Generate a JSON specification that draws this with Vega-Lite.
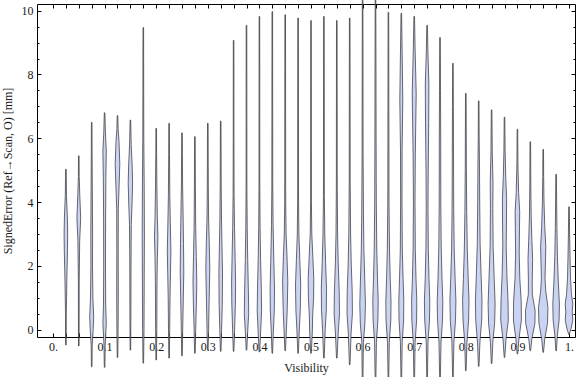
{
"$schema":"https://vega.github.io/schema/vega-lite/v6.json",
"autosize":"none","width":538,"height":333,
"padding":{"left":37,"top":4,"right":1,"bottom":40},
"background":"white",
"config":{"view":{"stroke":"#000","strokeWidth":1},
"axis":{"domain":false,"grid":false,"labelFont":"Liberation Serif","titleFont":"Liberation Serif","labelFontSize":12,"titleFontSize":12,"labelColor":"#1a1a1a","titleColor":"#1a1a1a","titleFontWeight":"normal","tickColor":"#000","tickWidth":1,"labelOverlap":false,"labelFlush":false,"labelBound":false}},
"data":{"values":[
{"v":0.025,"e":-0.48,"d":0.3},{"v":0.025,"e":0.5,"d":0.4},{"v":0.025,"e":1.5,"d":0.9},{"v":0.025,"e":2.5,"d":1.6},{"v":0.025,"e":3.0,"d":1.8},{"v":0.025,"e":3.5,"d":1.5},{"v":0.025,"e":4.2,"d":0.6},{"v":0.025,"e":5.03,"d":0.3},
{"v":0.05,"e":-0.51,"d":0.3},{"v":0.05,"e":1.5,"d":0.4},{"v":0.05,"e":2.8,"d":0.9},{"v":0.05,"e":3.5,"d":1.9},{"v":0.05,"e":4.2,"d":1.0},{"v":0.05,"e":4.8,"d":0.4},{"v":0.05,"e":5.45,"d":0.3},
{"v":0.075,"e":-1.16,"d":0.3},{"v":0.075,"e":-0.5,"d":0.5},{"v":0.075,"e":0,"d":1.5},{"v":0.075,"e":0.4,"d":2.0},{"v":0.075,"e":1.0,"d":1.2},{"v":0.075,"e":2.0,"d":0.8},{"v":0.075,"e":3.0,"d":0.9},{"v":0.075,"e":4.5,"d":0.6},{"v":0.075,"e":5.5,"d":0.4},{"v":0.075,"e":6.5,"d":0.3},
{"v":0.1,"e":-1.18,"d":0.3},{"v":0.1,"e":-0.5,"d":0.6},{"v":0.1,"e":0.2,"d":1.7},{"v":0.1,"e":0.8,"d":1.1},{"v":0.1,"e":2,"d":0.9},{"v":0.1,"e":3.5,"d":1.0},{"v":0.1,"e":4.8,"d":1.3},{"v":0.1,"e":5.6,"d":1.7},{"v":0.1,"e":6.2,"d":0.8},{"v":0.1,"e":6.8,"d":0.3},
{"v":0.125,"e":-0.87,"d":0.3},{"v":0.125,"e":0,"d":0.6},{"v":0.125,"e":1,"d":0.8},{"v":0.125,"e":2.5,"d":0.7},{"v":0.125,"e":3.8,"d":0.8},{"v":0.125,"e":4.5,"d":1.6},{"v":0.125,"e":5.2,"d":2.3},{"v":0.125,"e":5.9,"d":1.5},{"v":0.125,"e":6.3,"d":0.6},{"v":0.125,"e":6.71,"d":0.3},
{"v":0.15,"e":-0.64,"d":0.3},{"v":0.15,"e":0.5,"d":0.5},{"v":0.15,"e":2,"d":0.6},{"v":0.15,"e":3.3,"d":0.9},{"v":0.15,"e":4.0,"d":1.7},{"v":0.15,"e":4.6,"d":2.2},{"v":0.15,"e":5.2,"d":1.7},{"v":0.15,"e":5.8,"d":0.8},{"v":0.15,"e":6.57,"d":0.3},
{"v":0.175,"e":-1.05,"d":0.3},{"v":0.175,"e":0,"d":0.7},{"v":0.175,"e":1.5,"d":0.9},{"v":0.175,"e":3,"d":1.1},{"v":0.175,"e":4.5,"d":0.9},{"v":0.175,"e":6,"d":0.5},{"v":0.175,"e":7.5,"d":0.4},{"v":0.175,"e":9.47,"d":0.3},
{"v":0.2,"e":-0.95,"d":0.3},{"v":0.2,"e":0,"d":0.6},{"v":0.2,"e":1.5,"d":0.8},{"v":0.2,"e":2.3,"d":1.2},{"v":0.2,"e":2.9,"d":1.7},{"v":0.2,"e":3.6,"d":1.1},{"v":0.2,"e":4.5,"d":0.7},{"v":0.2,"e":5.5,"d":0.4},{"v":0.2,"e":6.31,"d":0.3},
{"v":0.225,"e":-0.89,"d":0.3},{"v":0.225,"e":0,"d":0.6},{"v":0.225,"e":1,"d":0.9},{"v":0.225,"e":1.8,"d":1.4},{"v":0.225,"e":2.5,"d":1.8},{"v":0.225,"e":3.2,"d":1.3},{"v":0.225,"e":4.2,"d":0.7},{"v":0.225,"e":5.5,"d":0.4},{"v":0.225,"e":6.47,"d":0.3},
{"v":0.25,"e":-0.82,"d":0.3},{"v":0.25,"e":0,"d":0.7},{"v":0.25,"e":1,"d":1.3},{"v":0.25,"e":1.8,"d":1.8},{"v":0.25,"e":2.7,"d":1.5},{"v":0.25,"e":3.6,"d":1.1},{"v":0.25,"e":4.5,"d":0.6},{"v":0.25,"e":5.5,"d":0.4},{"v":0.25,"e":6.17,"d":0.3},
{"v":0.275,"e":-0.74,"d":0.3},{"v":0.275,"e":0,"d":0.8},{"v":0.275,"e":0.8,"d":1.5},{"v":0.275,"e":1.5,"d":1.9},{"v":0.275,"e":2.3,"d":1.4},{"v":0.275,"e":3.2,"d":0.8},{"v":0.275,"e":4.5,"d":0.5},{"v":0.275,"e":6.05,"d":0.3},
{"v":0.3,"e":-0.63,"d":0.3},{"v":0.3,"e":0,"d":0.8},{"v":0.3,"e":1,"d":1.4},{"v":0.3,"e":1.9,"d":2.0},{"v":0.3,"e":2.8,"d":1.4},{"v":0.3,"e":3.5,"d":0.8},{"v":0.3,"e":4.5,"d":0.5},{"v":0.3,"e":6.47,"d":0.3},
{"v":0.325,"e":-0.68,"d":0.3},{"v":0.325,"e":0,"d":0.9},{"v":0.325,"e":0.8,"d":1.6},{"v":0.325,"e":1.8,"d":1.8},{"v":0.325,"e":2.6,"d":1.3},{"v":0.325,"e":3.5,"d":0.8},{"v":0.325,"e":4.5,"d":0.5},{"v":0.325,"e":6.54,"d":0.3},
{"v":0.35,"e":-0.68,"d":0.3},{"v":0.35,"e":0,"d":1.0},{"v":0.35,"e":0.8,"d":1.8},{"v":0.35,"e":1.5,"d":2.0},{"v":0.35,"e":2.3,"d":1.5},{"v":0.35,"e":3.2,"d":0.9},{"v":0.35,"e":4.2,"d":0.5},{"v":0.35,"e":6,"d":0.35},{"v":0.35,"e":9.07,"d":0.3},
{"v":0.375,"e":-0.64,"d":0.3},{"v":0.375,"e":-0.1,"d":1.1},{"v":0.375,"e":0.5,"d":2.2},{"v":0.375,"e":1.2,"d":1.9},{"v":0.375,"e":2.2,"d":1.2},{"v":0.375,"e":3.2,"d":0.7},{"v":0.375,"e":4.5,"d":0.4},{"v":0.375,"e":9.54,"d":0.3},
{"v":0.4,"e":-0.7,"d":0.3},{"v":0.4,"e":-0.1,"d":1.2},{"v":0.4,"e":0.6,"d":2.2},{"v":0.4,"e":1.3,"d":1.9},{"v":0.4,"e":2.2,"d":1.2},{"v":0.4,"e":3.2,"d":0.7},{"v":0.4,"e":4.5,"d":0.4},{"v":0.4,"e":9.82,"d":0.3},
{"v":0.425,"e":-0.74,"d":0.3},{"v":0.425,"e":-0.1,"d":1.0},{"v":0.425,"e":0.6,"d":2.0},{"v":0.425,"e":1.3,"d":2.2},{"v":0.425,"e":2.2,"d":1.5},{"v":0.425,"e":3.3,"d":0.8},{"v":0.425,"e":4.5,"d":0.45},{"v":0.425,"e":9.97,"d":0.3},
{"v":0.45,"e":-0.66,"d":0.3},{"v":0.45,"e":0,"d":1.2},{"v":0.45,"e":0.6,"d":2.0},{"v":0.45,"e":1.5,"d":2.6},{"v":0.45,"e":2.3,"d":1.8},{"v":0.45,"e":3.0,"d":0.9},{"v":0.45,"e":4.0,"d":0.5},{"v":0.45,"e":9.87,"d":0.3},
{"v":0.475,"e":-0.74,"d":0.3},{"v":0.475,"e":0,"d":1.2},{"v":0.475,"e":0.6,"d":2.2},{"v":0.475,"e":1.4,"d":2.6},{"v":0.475,"e":2.2,"d":1.7},{"v":0.475,"e":3.0,"d":0.8},{"v":0.475,"e":4.0,"d":0.45},{"v":0.475,"e":9.77,"d":0.3},
{"v":0.5,"e":-0.74,"d":0.3},{"v":0.5,"e":0,"d":1.4},{"v":0.5,"e":0.4,"d":1.6},{"v":0.5,"e":1.0,"d":2.6},{"v":0.5,"e":1.6,"d":2.8},{"v":0.5,"e":2.3,"d":1.8},{"v":0.5,"e":3.0,"d":0.8},{"v":0.5,"e":4.0,"d":0.4},{"v":0.5,"e":9.69,"d":0.3},
{"v":0.525,"e":-0.89,"d":0.3},{"v":0.525,"e":0,"d":1.3},{"v":0.525,"e":0.6,"d":2.4},{"v":0.525,"e":1.3,"d":2.6},{"v":0.525,"e":2.1,"d":1.7},{"v":0.525,"e":3.0,"d":0.9},{"v":0.525,"e":4.2,"d":0.45},{"v":0.525,"e":9.82,"d":0.3},
{"v":0.55,"e":-0.89,"d":0.3},{"v":0.55,"e":-0.1,"d":1.4},{"v":0.55,"e":0.5,"d":2.7},{"v":0.55,"e":1.2,"d":2.4},{"v":0.55,"e":2.1,"d":1.4},{"v":0.55,"e":3.0,"d":0.8},{"v":0.55,"e":4.5,"d":0.45},{"v":0.55,"e":9.69,"d":0.3},
{"v":0.575,"e":-1.1,"d":0.3},{"v":0.575,"e":-0.1,"d":1.4},{"v":0.575,"e":0.5,"d":2.7},{"v":0.575,"e":1.2,"d":2.5},{"v":0.575,"e":2.0,"d":1.6},{"v":0.575,"e":3.0,"d":0.9},{"v":0.575,"e":4.5,"d":0.5},{"v":0.575,"e":9.77,"d":0.3},
{"v":0.6,"e":-1.7,"d":0.3},{"v":0.6,"e":-0.4,"d":0.8},{"v":0.6,"e":0.2,"d":2.3},{"v":0.6,"e":0.8,"d":2.8},{"v":0.6,"e":1.5,"d":2.2},{"v":0.6,"e":2.5,"d":1.3},{"v":0.6,"e":3.5,"d":0.9},{"v":0.6,"e":5.5,"d":0.5},{"v":0.6,"e":10.33,"d":0.3},
{"v":0.625,"e":-1.7,"d":0.3},{"v":0.625,"e":-0.4,"d":0.9},{"v":0.625,"e":0.3,"d":2.4},{"v":0.625,"e":0.9,"d":2.7},{"v":0.625,"e":1.6,"d":2.0},{"v":0.625,"e":2.5,"d":1.3},{"v":0.625,"e":4,"d":0.8},{"v":0.625,"e":6,"d":0.6},{"v":0.625,"e":8,"d":0.5},{"v":0.625,"e":10.36,"d":0.3},
{"v":0.65,"e":-1.6,"d":0.3},{"v":0.65,"e":-0.4,"d":0.9},{"v":0.65,"e":0.3,"d":2.4},{"v":0.65,"e":0.9,"d":2.6},{"v":0.65,"e":1.6,"d":1.8},{"v":0.65,"e":2.5,"d":1.1},{"v":0.65,"e":4,"d":0.6},{"v":0.65,"e":9.95,"d":0.3},
{"v":0.675,"e":-1.6,"d":0.3},{"v":0.675,"e":-0.4,"d":0.9},{"v":0.675,"e":0.3,"d":2.3},{"v":0.675,"e":0.9,"d":2.5},{"v":0.675,"e":1.6,"d":1.8},{"v":0.675,"e":2.5,"d":1.0},{"v":0.675,"e":4,"d":0.7},{"v":0.675,"e":5.6,"d":0.8},{"v":0.675,"e":7.2,"d":1.5},{"v":0.675,"e":8.8,"d":0.8},{"v":0.675,"e":9.92,"d":0.3},
{"v":0.7,"e":-1.6,"d":0.3},{"v":0.7,"e":-0.4,"d":0.9},{"v":0.7,"e":0.3,"d":2.4},{"v":0.7,"e":0.9,"d":2.6},{"v":0.7,"e":1.6,"d":1.8},{"v":0.7,"e":2.5,"d":1.1},{"v":0.7,"e":4,"d":0.8},{"v":0.7,"e":5.5,"d":1.1},{"v":0.7,"e":7.4,"d":2.0},{"v":0.7,"e":8.8,"d":0.9},{"v":0.7,"e":9.82,"d":0.3},
{"v":0.725,"e":-1.6,"d":0.3},{"v":0.725,"e":-0.4,"d":0.9},{"v":0.725,"e":0.3,"d":2.4},{"v":0.725,"e":0.9,"d":2.7},{"v":0.725,"e":1.6,"d":1.9},{"v":0.725,"e":2.5,"d":1.2},{"v":0.725,"e":3.8,"d":0.9},{"v":0.725,"e":5,"d":1.1},{"v":0.725,"e":6.5,"d":1.6},{"v":0.725,"e":7.7,"d":1.8},{"v":0.725,"e":8.7,"d":0.8},{"v":0.725,"e":9.54,"d":0.3},
{"v":0.75,"e":-1.6,"d":0.3},{"v":0.75,"e":-0.4,"d":1.0},{"v":0.75,"e":0.3,"d":2.5},{"v":0.75,"e":0.9,"d":2.8},{"v":0.75,"e":1.6,"d":2.0},{"v":0.75,"e":2.6,"d":1.2},{"v":0.75,"e":4,"d":0.8},{"v":0.75,"e":6,"d":0.7},{"v":0.75,"e":7.5,"d":0.5},{"v":0.75,"e":9.16,"d":0.3},
{"v":0.775,"e":-1.48,"d":0.3},{"v":0.775,"e":-0.4,"d":1.0},{"v":0.775,"e":0.3,"d":2.6},{"v":0.775,"e":0.9,"d":3.0},{"v":0.775,"e":1.6,"d":2.2},{"v":0.775,"e":2.5,"d":1.3},{"v":0.775,"e":3.8,"d":0.8},{"v":0.775,"e":5.5,"d":0.6},{"v":0.775,"e":7,"d":0.45},{"v":0.775,"e":8.35,"d":0.3},
{"v":0.8,"e":-1.29,"d":0.3},{"v":0.8,"e":-0.4,"d":1.1},{"v":0.8,"e":0.3,"d":2.8},{"v":0.8,"e":0.9,"d":3.2},{"v":0.8,"e":1.6,"d":2.4},{"v":0.8,"e":2.5,"d":1.5},{"v":0.8,"e":3.7,"d":0.9},{"v":0.8,"e":5,"d":0.55},{"v":0.8,"e":7.41,"d":0.3},
{"v":0.825,"e":-1.15,"d":0.3},{"v":0.825,"e":-0.4,"d":1.2},{"v":0.825,"e":0.3,"d":3.0},{"v":0.825,"e":0.9,"d":3.3},{"v":0.825,"e":1.7,"d":2.4},{"v":0.825,"e":2.7,"d":1.4},{"v":0.825,"e":4,"d":1.0},{"v":0.825,"e":5.1,"d":0.8},{"v":0.825,"e":6,"d":0.45},{"v":0.825,"e":7.17,"d":0.3},
{"v":0.85,"e":-1.06,"d":0.3},{"v":0.85,"e":-0.4,"d":1.2},{"v":0.85,"e":0.2,"d":3.0},{"v":0.85,"e":0.8,"d":3.5},{"v":0.85,"e":1.6,"d":2.6},{"v":0.85,"e":2.6,"d":1.5},{"v":0.85,"e":3.8,"d":1.2},{"v":0.85,"e":4.6,"d":1.4},{"v":0.85,"e":5.5,"d":0.7},{"v":0.85,"e":6.89,"d":0.3},
{"v":0.875,"e":-0.87,"d":0.3},{"v":0.875,"e":-0.3,"d":1.5},{"v":0.875,"e":0.3,"d":3.8},{"v":0.875,"e":0.9,"d":3.5},{"v":0.875,"e":1.7,"d":2.4},{"v":0.875,"e":2.6,"d":1.7},{"v":0.875,"e":3.5,"d":2.0},{"v":0.875,"e":4.1,"d":2.1},{"v":0.875,"e":4.8,"d":1.2},{"v":0.875,"e":5.6,"d":0.6},{"v":0.875,"e":6.66,"d":0.3},
{"v":0.9,"e":-0.76,"d":0.3},{"v":0.9,"e":-0.3,"d":1.5},{"v":0.9,"e":0.3,"d":4.0},{"v":0.9,"e":0.9,"d":3.8},{"v":0.9,"e":1.6,"d":2.4},{"v":0.9,"e":2.4,"d":1.8},{"v":0.9,"e":3.2,"d":2.1},{"v":0.9,"e":3.7,"d":2.3},{"v":0.9,"e":4.3,"d":1.2},{"v":0.9,"e":5.2,"d":0.5},{"v":0.9,"e":6.28,"d":0.3},
{"v":0.925,"e":-0.66,"d":0.3},{"v":0.925,"e":-0.3,"d":1.5},{"v":0.925,"e":0.2,"d":4.6},{"v":0.925,"e":0.6,"d":4.8},{"v":0.925,"e":1.1,"d":2.0},{"v":0.925,"e":1.5,"d":1.9},{"v":0.925,"e":2.2,"d":2.3},{"v":0.925,"e":2.8,"d":1.6},{"v":0.925,"e":3.5,"d":0.9},{"v":0.925,"e":4.5,"d":0.5},{"v":0.925,"e":5.89,"d":0.3},
{"v":0.95,"e":-0.71,"d":0.3},{"v":0.95,"e":-0.3,"d":1.5},{"v":0.95,"e":0.2,"d":4.3},{"v":0.95,"e":0.7,"d":4.7},{"v":0.95,"e":1.2,"d":2.6},{"v":0.95,"e":1.6,"d":1.8},{"v":0.95,"e":2.2,"d":2.3},{"v":0.95,"e":2.6,"d":2.6},{"v":0.95,"e":3.2,"d":1.6},{"v":0.95,"e":4,"d":0.8},{"v":0.95,"e":4.8,"d":0.45},{"v":0.95,"e":5.65,"d":0.3},
{"v":0.975,"e":-0.66,"d":0.3},{"v":0.975,"e":-0.2,"d":1.2},{"v":0.975,"e":0.3,"d":3.0},{"v":0.975,"e":0.8,"d":3.3},{"v":0.975,"e":1.5,"d":2.2},{"v":0.975,"e":2.3,"d":1.3},{"v":0.975,"e":3.2,"d":0.8},{"v":0.975,"e":4,"d":0.5},{"v":0.975,"e":4.87,"d":0.3},
{"v":1,"e":-0.15,"d":0.3},{"v":1,"e":0.05,"d":2.2},{"v":1,"e":0.3,"d":3.8},{"v":1,"e":0.55,"d":3.2},{"v":1,"e":0.8,"d":3.8},{"v":1,"e":1.1,"d":2.5},{"v":1,"e":1.6,"d":1.5},{"v":1,"e":2.3,"d":1.0},{"v":1,"e":3.0,"d":0.6},{"v":1,"e":3.85,"d":0.3}
]},
"transform":[{"calculate":"datum.v - datum.d*0.00194","as":"lo"},{"calculate":"datum.v + datum.d*0.00194","as":"hi"}],
"layer":[
{"mark":{"type":"area","orient":"horizontal","fill":"#cbd3f5","stroke":"#333","strokeWidth":1,"strokeOpacity":0.72,"clip":false},
"encoding":{
"y":{"field":"e","type":"quantitative","scale":{"domain":[-0.23,10.21],"nice":false,"zero":false},
"axis":{"orient":"left","values":[0,0.5,1,1.5,2,2.5,3,3.5,4,4.5,5,5.5,6,6.5,7,7.5,8,8.5,9,9.5,10],"labelExpr":"datum.value%2===0 ? format(datum.value,'d') : ''","tickSize":{"condition":{"test":"datum.value%2===0","value":-4},"value":-2},"labelPadding":8,"title":"SignedError (Ref→Scan, O) [mm]","titlePadding":7}},
"x":{"field":"lo","type":"quantitative","stack":null,"scale":{"domain":[-0.031,1.0116],"nice":false,"zero":false},
"axis":{"orient":"bottom","values":[0,0.025,0.05,0.075,0.1,0.125,0.15,0.175,0.2,0.225,0.25,0.275,0.3,0.325,0.35,0.375,0.4,0.425,0.45,0.475,0.5,0.525,0.55,0.575,0.6,0.625,0.65,0.675,0.7,0.725,0.75,0.775,0.8,0.825,0.85,0.875,0.9,0.925,0.95,0.975,1],"labelExpr":"round(datum.value*40)%4===0 ? (datum.value===0 ? '0.' : datum.value===1 ? '1.' : format(datum.value,'.1f')) : ''","tickSize":-4,"labelPadding":8,"title":"Visibility","titlePadding":10}},
"x2":{"field":"hi"},
"detail":{"field":"v","type":"nominal"}}},
{"mark":{"type":"point","opacity":0},
"encoding":{
"x":{"field":"v","type":"quantitative","axis":{"orient":"top","values":[0,0.025,0.05,0.075,0.1,0.125,0.15,0.175,0.2,0.225,0.25,0.275,0.3,0.325,0.35,0.375,0.4,0.425,0.45,0.475,0.5,0.525,0.55,0.575,0.6,0.625,0.65,0.675,0.7,0.725,0.75,0.775,0.8,0.825,0.85,0.875,0.9,0.925,0.95,0.975,1],"labels":false,"tickSize":-4,"title":null}},
"y":{"field":"e","type":"quantitative","axis":{"orient":"right","values":[0,0.5,1,1.5,2,2.5,3,3.5,4,4.5,5,5.5,6,6.5,7,7.5,8,8.5,9,9.5,10],"labels":false,"tickSize":{"condition":{"test":"datum.value%2===0","value":-4},"value":-2},"title":null}}}}
],
"resolve":{"axis":{"x":"independent","y":"independent"}}
}
